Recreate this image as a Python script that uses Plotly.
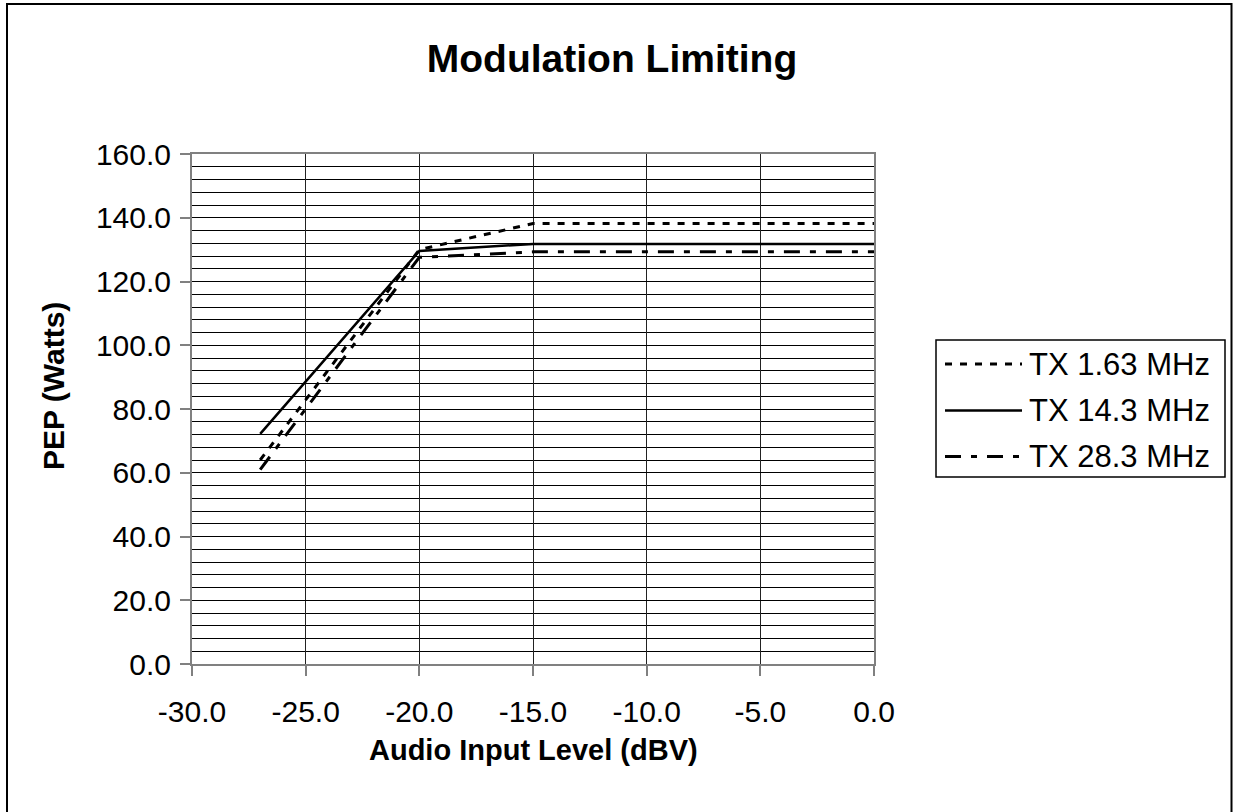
import plotly.graph_objects as go

# ---- data ----
x_levels = [-27, -20, -15, -10, -5, 0]
tx_163 = [64.0, 130.0, 138.2, 138.2, 138.2, 138.2]
tx_143 = [72.2, 129.6, 131.8, 131.8, 131.8, 131.8]
tx_283 = [61.0, 127.6, 129.3, 129.3, 129.3, 129.3]
series_names = ["TX 1.63 MHz", "TX 14.3 MHz", "TX 28.3 MHz"]

x_tick_vals = [-30, -25, -20, -15, -10, -5, 0]
x_tick_text = ["-30.0", "-25.0", "-20.0", "-15.0", "-10.0", "-5.0", "0.0"]
y_tick_vals = [0, 20, 40, 60, 80, 100, 120, 140, 160]
y_tick_text = ["0.0", "20.0", "40.0", "60.0", "80.0", "100.0", "120.0", "140.0", "160.0"]

FONT = "Liberation Sans, Arial, sans-serif"
FS = 30
dashes = ["7px,8px", "solid", "16px,10px,6px,10px"]
widths = [3, 2.5, 3]

fig = go.Figure()
for name, ys, d, w in zip(series_names, [tx_163, tx_143, tx_283], dashes, widths):
    fig.add_trace(go.Scatter(x=x_levels, y=ys, mode="lines", name=name,
                             line=dict(color="black", width=w, dash=d),
                             showlegend=False, hoverinfo="skip"))

W, H = 1233, 812
L, R, T, B = 192, 359, 154, 148
pw, ph = W - L - R, H - T - B

def px(xp):
    return (xp - L) / pw

def py(yp):
    return (H - B - yp) / ph

fig.update_layout(
    width=W, height=H,
    margin=dict(l=L, r=R, t=T, b=B, autoexpand=False),
    paper_bgcolor="white", plot_bgcolor="white",
    font=dict(family=FONT, size=FS, color="black"),
    title=dict(text="<b>Modulation Limiting</b>", x=px(612), xref="paper",
               xanchor="center", y=1 - 58 / H, yanchor="middle",
               font=dict(size=39, family=FONT, color="black")),
)

fig.update_xaxes(range=[-30, 0], tickvals=x_tick_vals, ticktext=x_tick_text,
                 showgrid=True, gridcolor="#222222", gridwidth=1,
                 ticks="outside", ticklen=10, tickcolor="#808080", tickwidth=1.5,
                 ticklabelstandoff=10,
                 showline=True, linecolor="#808080", linewidth=2, mirror=True,
                 zeroline=False, tickfont=dict(size=FS))
fig.update_yaxes(range=[0, 160], tickvals=y_tick_vals, ticktext=y_tick_text,
                 showgrid=True, gridcolor="black", gridwidth=1,
                 minor=dict(dtick=4, tick0=0, showgrid=True, gridcolor="black", gridwidth=1, ticklen=0),
                 ticks="outside", ticklen=10, tickcolor="#808080", tickwidth=1.5,
                 ticklabelstandoff=3,
                 showline=True, linecolor="#808080", linewidth=2, mirror=True,
                 zeroline=False, tickfont=dict(size=FS))

# axis titles
fig.add_annotation(text="<b>Audio Input Level (dBV)</b>", xref="paper", yref="paper",
                   x=px(533), y=py(750), showarrow=False, xanchor="center", yanchor="middle",
                   font=dict(size=29, family=FONT))
fig.add_annotation(text="<b>PEP (Watts)</b>", xref="paper", yref="paper",
                   x=px(53), y=py(386), showarrow=False, xanchor="center", yanchor="middle",
                   textangle=-90, font=dict(size=30, family=FONT))

# outer chart border
fig.add_shape(type="rect", xref="paper", yref="paper",
              x0=px(7), x1=px(1231.5), y0=py(830), y1=py(4),
              line=dict(color="black", width=2), layer="below")

# legend box
fig.add_shape(type="rect", xref="paper", yref="paper",
              x0=px(936), x1=px(1225), y0=py(477), y1=py(340),
              line=dict(color="black", width=1.5), fillcolor="white")
rows = [364, 410.5, 456.5]
for name, d, w, ry in zip(series_names, dashes, widths, rows):
    fig.add_shape(type="line", xref="paper", yref="paper",
                  x0=px(945), x1=px(1022), y0=py(ry), y1=py(ry),
                  line=dict(color="black", width=w, dash=d))
    fig.add_annotation(text=name, xref="paper", yref="paper", x=px(1027), y=py(ry),
                       xanchor="left", yanchor="middle", showarrow=False,
                       font=dict(size=31, family=FONT))

fig.write_html("out.html", config={"displayModeBar": False},
               post_script="document.body.style.margin='0';document.body.style.overflow='hidden';")
